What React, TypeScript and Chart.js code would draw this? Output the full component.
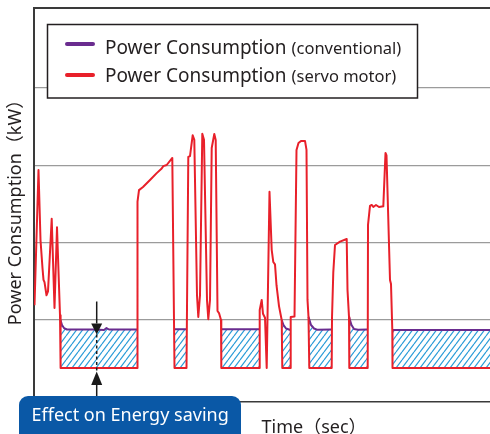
import { useEffect, useRef } from 'react';
import { Chart, registerables } from 'chart.js';

Chart.register(...registerables);

// ---- data (time in sec, power in kW) ----
const SERVO_T = [
  0.5, 4.5, 6.5, 8.5, 9.5, 10.5, 12.5, 14, 17.7, 20.5, 23, 26, 26.5, 26.7,
  103.3, 103.5, 105, 109, 116, 122.7, 127.7, 129.3, 132.7, 138.3, 140.5,
  152.5, 153, 154.3, 156, 158.7, 160.3, 163, 164.3, 166, 168.3, 170, 173, 174.3, 176, 177.7, 180.3, 181.7, 183.5, 185, 187, 187.3,
  225.5, 225.7, 227.7, 229, 231, 232.7, 235.5, 237.7, 239.3, 241, 242.5, 245, 247.7, 248.3,
  256.5, 256.7, 260.5, 262.5, 264.5, 267, 271, 272.5, 273.5, 274.5, 275.3,
  297.7, 298, 299.3, 301, 306, 312.7, 313.5, 315, 315.3,
  333.7, 334, 336, 337.7, 339.3, 342, 345, 349.3, 351.5, 352.5, 356, 357, 358.3, 358.5, 456,
];
const SERVO_KW = [
  11.9, 29.4, 20.35, 16.7, 15.2, 14.9, 13.2, 13.7, 23.1, 11.55, 22.0, 10.6, 10.0, 3.8,
  3.8, 25.3, 26.8, 27.2, 28.1, 29.0, 29.6, 29.9, 30.05, 30.96, 3.8,
  3.8, 11.55, 31.1, 31.2, 33.9, 33.3, 13.2, 10.4, 13.2, 34.1, 33.3, 12.6, 10.1, 12.6, 32.25, 34.06, 33.3, 11.16, 10.9, 10.0, 3.8,
  3.8, 11.3, 12.6, 10.8, 10.3, 3.8, 26.6, 19.06, 17.5, 17.2, 14.5, 11.8, 10.0, 3.8,
  3.8, 10.4, 10.45, 32.0, 32.9, 33.16, 33.16, 32.0, 12.6, 10.4, 3.8,
  3.8, 10.26, 16.2, 19.7, 20.13, 20.48, 13.9, 10.4, 3.8,
  3.8, 22.3, 24.75, 24.88, 24.62, 24.88, 24.62, 24.7, 31.6, 31.3, 15.17, 14.66, 8.7, 3.8, 3.8,
];
const CONV_T = [
  26.5, 28, 30, 33, 61, 70, 72.5, 75, 103.3, 120,
  141, 152.3, 170,
  187.3, 225.5, 240,
  247.7, 249.5, 252, 256.5, 265,
  274.5, 277, 280, 283, 297.7, 305,
  315, 317.5, 320, 324, 333.7, 345,
  358.3, 456,
];
const CONV_KW: (number | null)[] = [
  10.0, 9.35, 8.96, 8.77, 8.77, 8.71, 8.96, 8.77, 8.77, null,
  8.8, 8.8, null,
  8.8, 8.8, null,
  10.0, 9.35, 8.9, 8.71, null,
  10.4, 9.35, 8.9, 8.75, 8.77, null,
  10.4, 9.35, 8.84, 8.75, 8.77, null,
  8.71, 8.71,
];
const GRID_KW = [10, 20, 30, 40];
const Y_MIN = -0.57;
const Y_MAX = 50.36;
const T_MAX = 456;
const IDLE_SERVO_KW = 3.8; // servo idle level (bottom of saving area)
const IDLE_CONV_KW = 8.77; // conventional idle level
const ARROW_T = 62.7;

const LEGEND_MAIN = 'Power Consumption';
const LEGEND_SUB = ['(conventional)', '(servo motor)'];
const Y_TITLE = 'Power Consumption（kW）';
const X_TITLE = 'Time（sec）';
const NOTE = 'Effect on Energy saving';

// ---- styles ----
const PURPLE = '#6a2c8f';
const RED = '#e8202a';
const HATCH = '#2a9cd8';
const AXIS = '#3a3a3a';
const GRID = '#9b9b9b';
const TEXT = '#231f20';
const BOX = '#0a58a6';
const FONT = '"Noto Sans", "Noto Sans CJK JP", sans-serif';

function makeHatch(): CanvasPattern | string {
  const w = 6, h = 8;
  const c = document.createElement('canvas');
  c.width = w; c.height = h;
  const g = c.getContext('2d');
  if (!g) return HATCH;
  g.strokeStyle = HATCH;
  g.lineWidth = 1.2;
  for (const o of [-w, 0, w]) {
    g.beginPath();
    g.moveTo(o, h);
    g.lineTo(o + w, 0);
    g.stroke();
  }
  return g.createPattern(c, 'repeat') || HATCH;
}

function roundRectPath(ctx: CanvasRenderingContext2D, x: number, y: number, w: number, h: number, r: number) {
  ctx.beginPath();
  ctx.moveTo(x + r, y);
  ctx.lineTo(x + w - r, y);
  ctx.arcTo(x + w, y, x + w, y + r, r);
  ctx.lineTo(x + w, y + h - r);
  ctx.arcTo(x + w, y + h, x + w - r, y + h, r);
  ctx.lineTo(x + r, y + h);
  ctx.arcTo(x, y + h, x, y + h - r, r);
  ctx.lineTo(x, y + r);
  ctx.arcTo(x, y, x + r, y, r);
  ctx.closePath();
}

const overlay = {
  id: 'overlay',
  afterDraw(chart: any) {
    const { ctx, chartArea: a } = chart;
    const xs = chart.scales.x;
    const ys = chart.scales.y;
    ctx.save();

    // top frame line
    ctx.strokeStyle = AXIS;
    ctx.lineWidth = 2;
    ctx.beginPath();
    ctx.moveTo(a.left - 1, a.top);
    ctx.lineTo(a.right, a.top);
    ctx.stroke();

    // legend
    ctx.fillStyle = '#fff';
    ctx.fillRect(47.5, 24.5, 370, 73.5);
    ctx.strokeStyle = TEXT;
    ctx.lineWidth = 1.5;
    ctx.strokeRect(47.5, 24.5, 370, 73.5);
    const lineYs = [44, 75];
    const baseYs = [53.5, 81.5];
    chart.data.datasets.forEach((ds: any, i: number) => {
      ctx.strokeStyle = ds.borderColor;
      ctx.lineWidth = 4;
      ctx.lineCap = 'round';
      ctx.beginPath();
      ctx.moveTo(67, lineYs[i]);
      ctx.lineTo(93, lineYs[i]);
      ctx.stroke();
      ctx.fillStyle = TEXT;
      ctx.textAlign = 'left';
      ctx.textBaseline = 'alphabetic';
      ctx.font = `19px ${FONT}`;
      const main = LEGEND_MAIN + ' ';
      ctx.fillText(main, 105, baseYs[i]);
      const mw = ctx.measureText(main).width;
      ctx.font = `16.5px ${FONT}`;
      ctx.fillText(LEGEND_SUB[i], 105 + mw, baseYs[i]);
    });
    ctx.lineCap = 'butt';

    // arrows showing the saving
    const ax = xs.getPixelForValue(ARROW_T);
    const yP = ys.getPixelForValue(IDLE_CONV_KW);
    const yR = ys.getPixelForValue(IDLE_SERVO_KW);
    ctx.strokeStyle = '#1a1a1a';
    ctx.fillStyle = '#1a1a1a';
    ctx.lineWidth = 1.5;
    ctx.beginPath();
    ctx.moveTo(ax, yP - 28);
    ctx.lineTo(ax, yP - 6);
    ctx.stroke();
    ctx.beginPath();
    ctx.moveTo(ax - 5.5, yP - 6);
    ctx.lineTo(ax + 5.5, yP - 6);
    ctx.lineTo(ax, yP + 5);
    ctx.closePath();
    ctx.fill();
    ctx.setLineDash([3, 2.5]);
    ctx.beginPath();
    ctx.moveTo(ax, yP + 5);
    ctx.lineTo(ax, yR + 3.5);
    ctx.stroke();
    ctx.setLineDash([]);
    ctx.beginPath();
    ctx.moveTo(ax, yR + 3.5);
    ctx.lineTo(ax + 5.5, yR + 17);
    ctx.lineTo(ax - 5.5, yR + 17);
    ctx.closePath();
    ctx.fill();
    ctx.beginPath();
    ctx.moveTo(ax, yR + 17);
    ctx.lineTo(ax, yR + 32);
    ctx.stroke();

    // note box
    ctx.fillStyle = BOX;
    roundRectPath(ctx, 19, 396, 222, 50, 9);
    ctx.fill();
    ctx.fillStyle = '#fff';
    ctx.font = `18px ${FONT}`;
    ctx.textAlign = 'left';
    ctx.fillText(NOTE, 31.5, 420.5);

    // axis titles
    ctx.fillStyle = TEXT;
    ctx.font = `18px ${FONT}`;
    ctx.fillText(X_TITLE, 261.5, 433);
    ctx.translate(21, 208);
    ctx.rotate(-Math.PI / 2);
    ctx.textAlign = 'center';
    ctx.fillText(Y_TITLE, 0, 0);

    ctx.restore();
  },
};

export default function App() {
  const ref = useRef<HTMLCanvasElement>(null);
  useEffect(() => {
    const canvas = ref.current;
    if (!canvas) return;
    const servo = SERVO_T.map((t, i) => ({ x: t, y: SERVO_KW[i] }));
    const conv = CONV_T.map((t, i) => ({ x: t, y: CONV_KW[i] }));
    const chart = new Chart(canvas, {
      type: 'line',
      data: {
        datasets: [
          {
            label: 'Power Consumption (conventional)',
            data: conv as any,
            borderColor: PURPLE,
            borderWidth: 2,
            pointRadius: 0,
            backgroundColor: makeHatch() as any,
            fill: { value: IDLE_SERVO_KW } as any,
            spanGaps: false,
            borderJoinStyle: 'round',
            order: 2,
          },
          {
            label: 'Power Consumption (servo motor)',
            data: servo as any,
            borderColor: RED,
            borderWidth: 2,
            pointRadius: 0,
            fill: false,
            borderJoinStyle: 'round',
            order: 1,
          },
        ],
      },
      options: {
        animation: false,
        responsive: false,
        maintainAspectRatio: false,
        events: [],
        layout: { padding: { left: 34, top: 8, right: 0, bottom: 32.3 } },
        plugins: { legend: { display: false }, tooltip: { enabled: false } },
        scales: {
          x: {
            type: 'linear',
            min: 0,
            max: T_MAX,
            ticks: { display: false },
            grid: { display: false, drawTicks: false },
            border: { display: true, color: AXIS, width: 1.5 },
          },
          y: {
            type: 'linear',
            min: Y_MIN,
            max: Y_MAX,
            afterBuildTicks: (axis: any) => {
              axis.ticks = GRID_KW.map((v) => ({ value: v }));
            },
            ticks: { display: false },
            grid: { color: GRID, lineWidth: 1.2, drawTicks: false },
            border: { display: true, color: AXIS, width: 2 },
          },
        },
      },
      plugins: [overlay],
    });
    return () => chart.destroy();
  }, []);
  return (
    <div style={{ position: 'absolute', left: 0, top: 0, width: 490, height: 434 }}>
      <canvas ref={ref} width={490} height={434} style={{ display: 'block', width: 490, height: 434 }} />
    </div>
  );
}
